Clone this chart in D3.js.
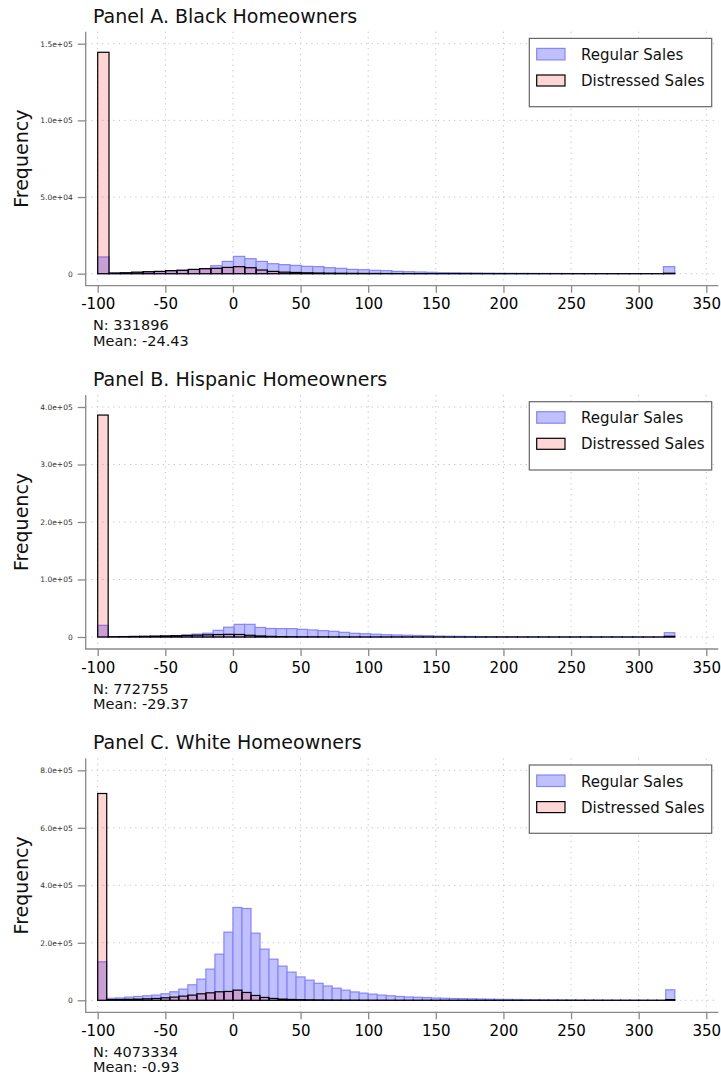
<!DOCTYPE html>
<html>
<head>
<meta charset="utf-8">
<script src="https://cdn.jsdelivr.net/npm/d3@7"></script>
<style>
  body { margin: 0; background: #fff; }
  svg { display: block; font-family: "DejaVu Sans", sans-serif; }
</style>
</head>
<body>
<svg id="chart" width="721" height="1078"></svg>
<script>
// ---- Data: histogram counts of percent price change, per bin ----
const panelTitles = ["Panel A. Black Homeowners", "Panel B. Hispanic Homeowners", "Panel C. White Homeowners"];
const sampleSizes = [331896, 772755, 4073334];
const sampleMeans = [-24.43, -29.37, -0.93];
const binRange = [-100, 326.7];
const legendLabels = ["Regular Sales", "Distressed Sales"];

const regularA = [10900, 500, 650, 850, 1100, 1400, 1800, 2300, 2700, 3000, 5200, 8000, 11300, 9800, 8000, 6500, 5900, 5400, 4800, 4600, 3900, 3500, 2800, 2600, 2200, 2000, 1500, 1300, 1100, 900, 650, 600, 500, 450, 350, 300, 260, 220, 190, 160, 140, 120, 100, 90, 80, 70, 60, 50, 45, 40, 4600];
const distressedA = [144400, 400, 600, 1000, 1300, 1500, 2000, 2200, 2800, 3300, 3500, 4100, 4600, 3900, 2400, 1500, 1000, 800, 600, 450, 350, 280, 220, 180, 150, 120, 100, 80, 70, 60, 50, 45, 40, 35, 30, 25, 20, 20, 15, 15, 10, 10, 10, 10, 10, 10, 10, 10, 10, 10, 300];

const regularB = [20300, 600, 800, 1000, 1200, 1500, 1900, 2300, 3500, 5000, 6600, 11600, 17000, 22000, 22000, 16500, 14800, 14500, 14500, 13300, 12200, 11000, 9900, 8100, 6400, 5600, 4800, 4000, 3500, 3000, 2600, 2200, 1600, 1300, 1100, 900, 750, 600, 500, 420, 350, 300, 250, 210, 180, 150, 130, 110, 100, 90, 80, 70, 60, 50, 7500];
const distressedB = [386000, 500, 700, 900, 1100, 1400, 1800, 2200, 2700, 3200, 3800, 4300, 4600, 4400, 3000, 1800, 1100, 700, 500, 400, 300, 250, 200, 160, 130, 110, 90, 80, 70, 60, 50, 45, 40, 35, 30, 25, 25, 20, 20, 15, 15, 15, 10, 10, 10, 10, 10, 10, 10, 10, 10, 10, 10, 10, 1200];

const regularC = [133900, 7000, 8000, 11000, 13300, 15600, 18000, 22600, 29600, 38800, 53900, 73600, 108400, 160500, 237000, 322800, 319300, 233500, 177900, 143100, 118800, 97900, 81200, 70000, 59000, 49800, 42000, 35200, 29000, 24900, 21400, 18000, 15600, 13300, 11500, 10500, 9500, 8000, 7000, 6300, 5700, 5000, 4400, 3900, 3500, 3100, 2800, 2500, 2200, 1900, 1500, 1200, 1000, 800, 650, 500, 400, 330, 270, 220, 180, 150, 130, 36500];
const distressedC = [719300, 2300, 2900, 3500, 4000, 5200, 6400, 8700, 11000, 14500, 18000, 22600, 26000, 29600, 30700, 35300, 27200, 16800, 9900, 6400, 4000, 2900, 2200, 1700, 1300, 1000, 800, 650, 550, 450, 380, 320, 270, 230, 200, 170, 150, 130, 110, 100, 90, 80, 70, 60, 55, 50, 45, 40, 35, 30, 30, 25, 25, 20, 20, 20, 15, 15, 15, 15, 10, 10, 10, 2500];

const xTicks = [-100, -50, 0, 50, 100, 150, 200, 250, 300, 350];
const yTicksA = [0, 5e4, 1e5, 1.5e5];
const yTicksB = [0, 1e5, 2e5, 3e5, 4e5];
const yTicksC = [0, 2e5, 4e5, 6e5, 8e5];

const panels = [
  { regular: regularA, distressed: distressedA, yTicks: yTicksA },
  { regular: regularB, distressed: distressedB, yTicks: yTicksB },
  { regular: regularC, distressed: distressedC, yTicks: yTicksC }
];

// ---- Layout ----
const frameLeft = 85.7, frameRight = 718.3;
const panelTops = [31.7, 395, 758.3];
const frameHeight = 254;
const pad = 12;

const regularFill = "#c0c0ff", regularStroke = "#8585ff";
const distressedFill = "rgba(255,0,0,0.17)", distressedStroke = "#000";
const axisColor = "#8a8a8a";

// "5.0e+04" style labels
function sciFormat(v) {
  if (v === 0) return "0";
  const e = Math.floor(Math.log10(Math.abs(v)));
  const m = v / Math.pow(10, e);
  const sign = e < 0 ? "-" : "+";
  return m.toFixed(1) + "e" + sign + String(Math.abs(e)).padStart(2, "0");
}

const svg = d3.select("#chart");

panels.forEach((p, i) => {
  const top = panelTops[i];
  const bottom = top + frameHeight;
  const g = svg.append("g");

  const x = d3.scaleLinear().domain([xTicks[0], xTicks[xTicks.length - 1]])
    .range([frameLeft + pad, frameRight - pad]);
  const y = d3.scaleLinear().domain([0, p.yTicks[p.yTicks.length - 1]])
    .range([bottom - pad, top + pad]);

  // dotted grid
  const grid = g.append("g").attr("stroke", "#c8c8c8").attr("stroke-width", 1)
    .attr("stroke-dasharray", "1.3,4.2");
  grid.selectAll("line.v").data(xTicks).join("line")
    .attr("x1", d => x(d)).attr("x2", d => x(d))
    .attr("y1", top).attr("y2", bottom);
  grid.selectAll("line.h").data(p.yTicks).join("line")
    .attr("x1", frameLeft).attr("x2", frameRight)
    .attr("y1", d => y(d)).attr("y2", d => y(d));

  // histogram bins
  const n = p.regular.length;
  const w = (binRange[1] - binRange[0]) / n;
  const bins = d3.range(n).map(k => ({ lo: binRange[0] + k * w, hi: binRange[0] + (k + 1) * w }));

  g.append("g").selectAll("rect").data(p.regular).join("rect")
    .attr("x", (d, k) => x(bins[k].lo))
    .attr("width", (d, k) => x(bins[k].hi) - x(bins[k].lo))
    .attr("y", d => y(d))
    .attr("height", d => y(0) - y(d))
    .attr("fill", regularFill)
    .attr("stroke", regularStroke)
    .attr("stroke-width", 1.2);

  g.append("g").selectAll("rect").data(p.distressed).join("rect")
    .attr("x", (d, k) => x(bins[k].lo))
    .attr("width", (d, k) => x(bins[k].hi) - x(bins[k].lo))
    .attr("y", d => y(d))
    .attr("height", d => y(0) - y(d))
    .attr("fill", distressedFill)
    .attr("stroke", distressedStroke)
    .attr("stroke-width", 1.2);

  // spines
  g.append("path")
    .attr("d", `M${frameLeft},${top}V${bottom}H${frameRight}`)
    .attr("fill", "none").attr("stroke", axisColor).attr("stroke-width", 1.3);

  // x axis
  const xAxis = g.append("g").attr("transform", `translate(0,${bottom})`)
    .call(d3.axisBottom(x).tickValues(xTicks).tickSize(7).tickPadding(6).tickSizeOuter(0)
      .tickFormat(d => String(d)));
  xAxis.select(".domain").remove();
  xAxis.selectAll(".tick line").attr("stroke", axisColor).attr("stroke-width", 1.3);
  xAxis.selectAll(".tick text").attr("fill", "#000").attr("font-size", 15)
    .attr("font-family", "DejaVu Sans, sans-serif");

  // y axis
  const yAxis = g.append("g").attr("transform", `translate(${frameLeft},0)`)
    .call(d3.axisLeft(y).tickValues(p.yTicks).tickSize(8).tickPadding(5).tickSizeOuter(0)
      .tickFormat(sciFormat));
  yAxis.select(".domain").remove();
  yAxis.selectAll(".tick line").attr("stroke", axisColor).attr("stroke-width", 1.3);
  yAxis.selectAll(".tick text").attr("fill", "#333").attr("font-size", 7.5)
    .attr("font-family", "DejaVu Sans, sans-serif");

  // title
  g.append("text").attr("x", 93).attr("y", top - 9)
    .attr("font-size", 19).attr("fill", "#111").text(panelTitles[i]);

  // y label
  g.append("text")
    .attr("transform", `translate(27.5,${top + frameHeight / 2}) rotate(-90)`)
    .attr("text-anchor", "middle").attr("font-size", 19).attr("fill", "#111")
    .text("Frequency");

  // sample stats
  g.append("text").attr("x", 93).attr("y", bottom + 44.5)
    .attr("font-size", 14.5).attr("fill", "#111").text(`N: ${sampleSizes[i]}`);
  g.append("text").attr("x", 93).attr("y", bottom + 60)
    .attr("font-size", 14.5).attr("fill", "#111").text(`Mean: ${sampleMeans[i].toFixed(2)}`);

  // legend
  const lg = g.append("g").attr("transform", `translate(529.3,${top + 6.7})`);
  lg.append("rect").attr("width", 182.4).attr("height", 68.3)
    .attr("fill", "#fff").attr("stroke", "#666").attr("stroke-width", 1.2);
  const swatches = [
    { fill: regularFill, stroke: regularStroke, y: 10, h: 11.5 },
    { fill: "#ffd6d6", stroke: "#000", y: 36.6, h: 11 }
  ];
  swatches.forEach((s, k) => {
    lg.append("rect").attr("x", 7.4).attr("y", s.y).attr("width", 28.3).attr("height", s.h)
      .attr("fill", s.fill).attr("stroke", s.stroke).attr("stroke-width", 1.2);
    lg.append("text").attr("x", 51.7).attr("y", k === 0 ? 21.6 : 47.6)
      .attr("font-size", 15).attr("fill", "#111").text(legendLabels[k]);
  });
});
</script>
</body>
</html>
